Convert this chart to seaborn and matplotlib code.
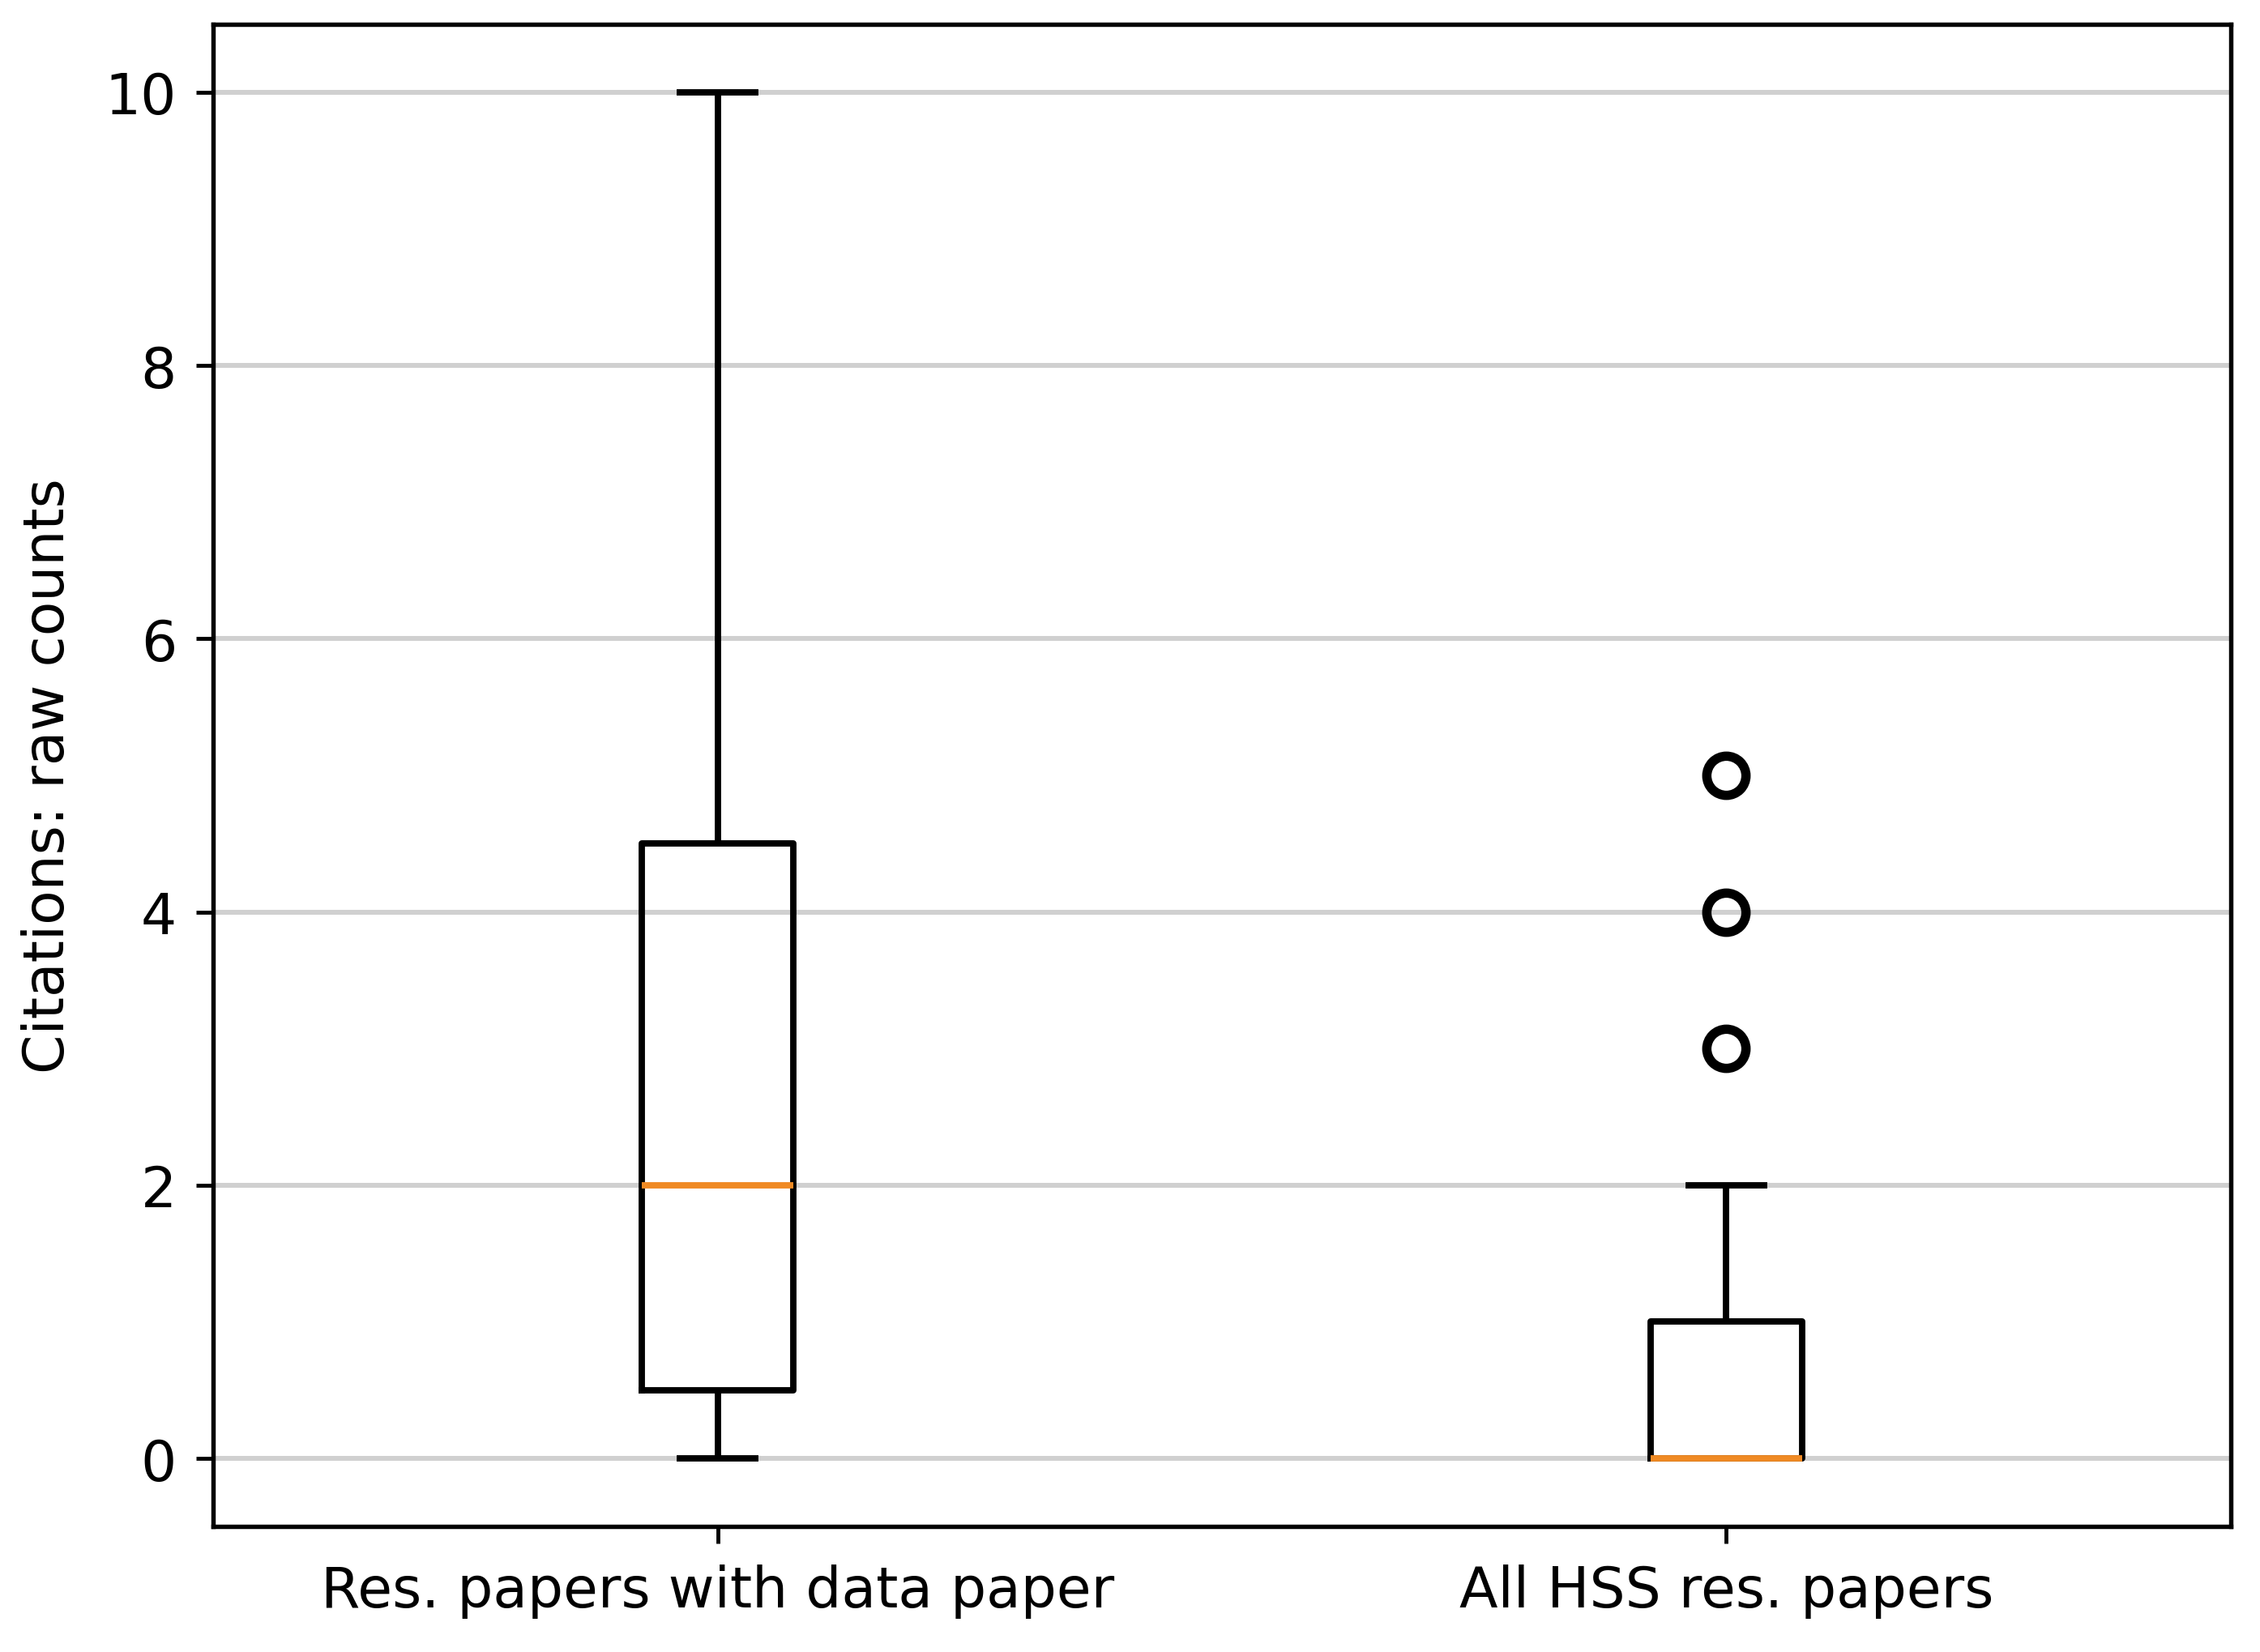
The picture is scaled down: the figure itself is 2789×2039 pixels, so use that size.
import pandas as pd
import matplotlib.pyplot as plt
import seaborn as sns

# -------------------------------
# Data (raw citation counts per paper)
# -------------------------------
groups = ['Res. papers with data paper', 'All HSS res. papers']
with_data_paper = [0, 0, 1, 2, 4, 5, 10]
all_hss = [0, 0, 0, 0, 0, 0, 0, 0, 0, 1, 1, 1, 1, 2, 3, 4, 5]
y_ticks = [0, 2, 4, 6, 8, 10]

df = pd.DataFrame({
    'group': [groups[0]] * len(with_data_paper) + [groups[1]] * len(all_hss),
    'citations': with_data_paper + all_hss,
})

# -------------------------------
# Plot
# -------------------------------
plt.rcParams['font.size'] = 11.5

fig, ax = plt.subplots(figsize=(2789 / 435, 2040 / 435), dpi=435)
fig.subplots_adjust(left=0.0944, right=0.987, top=0.985, bottom=0.0758)

sns.boxplot(
    data=df, x='group', y='citations', order=groups, ax=ax,
    fill=False, color='black', linecolor='black', width=0.15, linewidth=1.3,
    whis=1.5,
    medianprops=dict(color='#f08a24', linewidth=1.3),
    flierprops=dict(marker='o', markersize=8, markeredgewidth=1.9,
                    markeredgecolor='black', markerfacecolor='none'),
)

ax.set_xlim(-0.5, 1.5)
ax.set_ylim(-0.5, 10.5)
ax.set_yticks(y_ticks)
ax.tick_params(labelsize=11.5, pad=4)
ax.yaxis.grid(True, color='#d0d0d0', linewidth=1.0)
ax.set_axisbelow(True)
ax.set_xlabel('')
ax.set_ylabel('Citations: raw counts', fontsize=11.5, labelpad=6)
for s in ax.spines.values():
    s.set_color('black')
    s.set_linewidth(0.9)

fig.savefig('out.png', dpi=435)
